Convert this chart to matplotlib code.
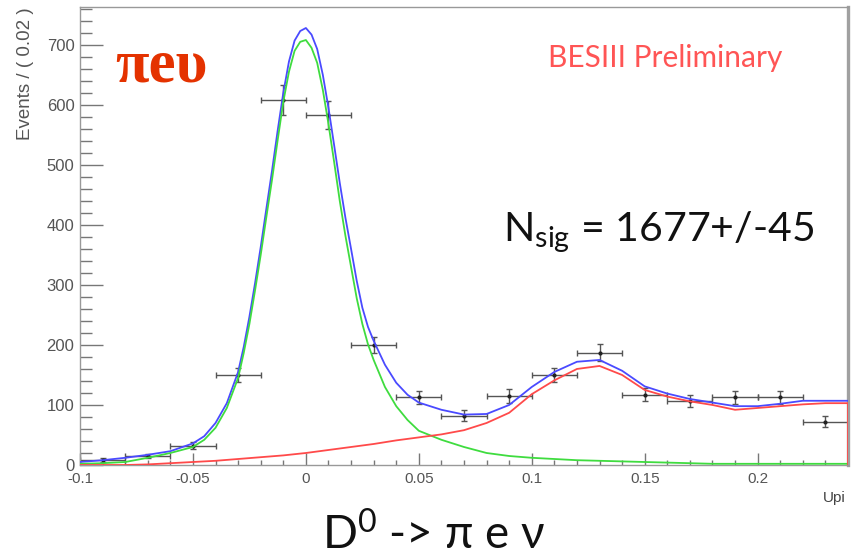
import matplotlib
matplotlib.use('Agg')
import matplotlib.pyplot as plt
from matplotlib.ticker import MultipleLocator, FixedLocator, FixedFormatter
import numpy as np

plt.rcParams['font.family'] = ['Lato', 'DejaVu Sans']
plt.rcParams['mathtext.default'] = 'regular'

# data points (bin centres, counts, errors)
data_x = [-0.09, -0.07, -0.05, -0.03, -0.01, 0.01, 0.03, 0.05, 0.07, 0.09,
          0.11, 0.13, 0.15, 0.17, 0.19, 0.21, 0.23]
data_y = [8, 15, 32, 150, 608, 583, 200, 113, 82, 115,
          150, 187, 117, 107, 113, 113, 72]
data_yerr = [3, 4, 6, 12, 25, 24, 14, 11, 9, 11, 12, 14, 11, 10, 11, 11, 9]
data_xerr = 0.01

# fit curves
curve_x = [-0.1, -0.09, -0.08, -0.07, -0.06, -0.05, -0.045, -0.04, -0.035, -0.03,
           -0.0275, -0.025, -0.0225, -0.02, -0.0175, -0.015, -0.0125, -0.01, -0.0075, -0.005,
           -0.0025, 0.0, 0.0025, 0.005, 0.0075, 0.01, 0.0125, 0.015, 0.0175, 0.02,
           0.0225, 0.025, 0.0275, 0.03, 0.035, 0.04, 0.045,
           0.05, 0.06, 0.07, 0.08, 0.09, 0.1, 0.11, 0.12, 0.13, 0.14,
           0.15, 0.16, 0.17, 0.18, 0.19, 0.2, 0.21, 0.22, 0.23, 0.24]
total_y = [5, 8, 12, 17, 23, 36, 48, 70, 103, 155,
           197, 247, 303, 363, 427, 490, 557, 620, 672, 707,
           723, 728, 717, 693, 650, 595, 533, 470, 412, 360,
           307, 262, 230, 207, 167, 137, 117,
           104, 92, 84, 85, 100, 130, 155, 172, 175, 157,
           131, 119, 110, 104, 98, 98, 102, 107, 107, 107]
signal_y = [2, 3, 5, 12, 20, 30, 42, 62, 95, 145,
            187, 235, 291, 350, 413, 475, 541, 605, 655, 690,
            705, 708, 695, 670, 625, 568, 505, 440, 382, 330,
            278, 235, 201, 175, 130, 98, 75,
            57, 42, 30, 20, 15, 12, 10, 8, 7, 6,
            5, 4, 3, 2, 2, 2, 2, 2, 2, 2]
bkg_x = [-0.1, -0.09, -0.08, -0.07, -0.06, -0.05, -0.04, -0.03, -0.02, -0.01,
         0.0, 0.01, 0.02, 0.03, 0.04, 0.05, 0.06, 0.07, 0.08, 0.09,
         0.1, 0.11, 0.12, 0.13, 0.14, 0.15, 0.16, 0.17, 0.18, 0.19,
         0.2, 0.21, 0.22, 0.23, 0.24, 0.24]
bkg_y = [0, 0, 0, 1, 3, 5, 7, 10, 13, 16,
         20, 25, 30, 35, 41, 46, 51, 58, 70, 87,
         118, 141, 160, 165, 150, 125, 114, 106, 100, 92,
         95, 98, 101, 103, 103, 0]

xticks = [-0.1, -0.05, 0, 0.05, 0.1, 0.15, 0.2]
xticklabels = ['-0.1', '-0.05', '0', '0.05', '0.1', '0.15', '0.2']
yticks = [0, 100, 200, 300, 400, 500, 600, 700]

fig = plt.figure(figsize=(8.56, 5.58), dpi=100)
ax = fig.add_axes([80/856, 93/558, 768/856, 458/558])

ax.errorbar(data_x, data_y, xerr=data_xerr, yerr=data_yerr, fmt='o', ms=2,
            color='#222222', ecolor='#555555', elinewidth=1, capsize=2, capthick=1,
            zorder=2)
ax.plot(curve_x, total_y, color='#4a4aff', lw=1.3, zorder=3)
ax.plot(curve_x, signal_y, color='#3fdc3f', lw=1.3, zorder=3)
ax.plot(bkg_x, bkg_y, color='#ff4a4a', lw=1.3, zorder=3)

ax.set_xlim(-0.1, 0.24)
ax.set_ylim(0, 763)

ax.xaxis.set_major_locator(FixedLocator(xticks))
ax.xaxis.set_major_formatter(FixedFormatter(xticklabels))
ax.xaxis.set_minor_locator(MultipleLocator(0.01))
ax.yaxis.set_major_locator(FixedLocator(yticks))
ax.yaxis.set_minor_locator(MultipleLocator(20))

ax.tick_params(axis='x', which='major', direction='in', length=8.6, width=1,
               color='#777777', labelsize=11, labelcolor='#555555', pad=5,
               labelfontfamily='Liberation Sans')
ax.tick_params(axis='x', which='minor', direction='in', length=3.6, width=1,
               color='#777777')
ax.tick_params(axis='y', which='major', direction='in', length=16.5, width=1,
               color='#777777', labelsize=12, labelcolor='#555555', pad=4,
               labelfontfamily='Liberation Sans')
ax.tick_params(axis='y', which='minor', direction='in', length=8.6, width=1,
               color='#777777')
ax.tick_params(top=False, right=False)

for side in ['left', 'bottom', 'top']:
    ax.spines[side].set_color('#999999')
    ax.spines[side].set_linewidth(1)
ax.spines['right'].set_color('#a0a0a0')
ax.spines['right'].set_linewidth(2.4)

ax.set_ylabel('Events / ( 0.02 )', fontsize=13.5, color='#555555',
              family='Liberation Sans')
ax.yaxis.set_label_coords(-46/768, 1.0)
ax.yaxis.label.set_ha('right')

fig.text(846/856, 1 - 498/558, 'Upi', ha='right', va='center', fontsize=11,
         color='#444444', family='Liberation Sans')

fig.text(161/856, 1 - 67/558, 'πeυ', ha='center', va='center', fontsize=44,
         fontweight='bold', color='#e43200', family=['Liberation Serif', 'DejaVu Serif'])
fig.text(665/856, 1 - 58/558, 'BESIII Preliminary', ha='center', va='center',
         fontsize=21.5, color='#ff5555')
fig.text(503/856, 1 - 232/558, 'N$_{sig}$ = 1677+/-45', ha='left', va='center',
         fontsize=29.5, color='#111111')
fig.text(434/856, 1 - 534/558, 'D$^{0}$ -> π e ν', ha='center', va='center',
         fontsize=33, color='#111111', family=['Lato', 'DejaVu Sans'])

fig.savefig('out.png', dpi=100)
